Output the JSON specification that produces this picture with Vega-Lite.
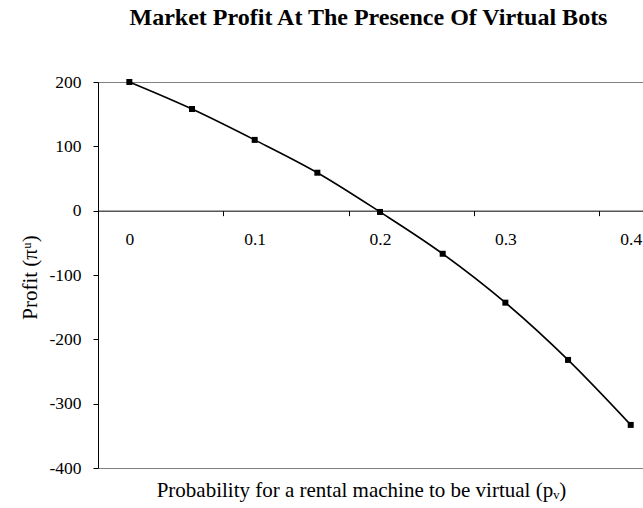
{
  "$schema": "https://vega.github.io/schema/vega-lite/v6.json",
  "autosize": {"type": "none"},
  "padding": {"left": 98, "top": 82, "right": 0, "bottom": 40},
  "width": 545,
  "height": 386,
  "background": "white",
  "title": {
    "text": "Market Profit At The Presence Of Virtual Bots",
    "font": "Liberation Serif",
    "fontSize": 24,
    "fontWeight": "bold",
    "color": "black",
    "anchor": "middle",
    "frame": "group",
    "baseline": "alphabetic",
    "offset": 24,
    "dx": -2
  },
  "config": {
    "view": {"stroke": "#808080", "strokeWidth": 1},
    "axis": {"grid": false}
  },
  "data": {
    "values": [
      {"p": 0, "profit": 200},
      {"p": 0.05, "profit": 158},
      {"p": 0.1, "profit": 110},
      {"p": 0.15, "profit": 59},
      {"p": 0.2, "profit": -2},
      {"p": 0.25, "profit": -67},
      {"p": 0.3, "profit": -143},
      {"p": 0.35, "profit": -232},
      {"p": 0.4, "profit": -333}
    ]
  },
  "layer": [
    {
      "mark": {"type": "line", "color": "black", "strokeWidth": 1.6, "interpolate": "monotone"},
      "encoding": {
        "x": {
          "field": "p", "type": "quantitative",
          "scale": {"domain": [-0.025, 0.4098], "nice": false, "zero": false},
          "axis": {
            "orient": "bottom",
            "values": [-0.025, 0.075, 0.175, 0.275, 0.375],
            "offset": -257.33,
            "labels": false,
            "ticks": true,
            "tickSize": 5,
            "tickColor": "black",
            "domain": true,
            "domainColor": "black",
            "domainWidth": 1,
            "title": "Probability for a rental machine to be virtual (pᵥ)",
            "titleFont": "Liberation Serif",
            "titleFontSize": 21,
            "titleFontWeight": "normal",
            "titleColor": "black",
            "titleBaseline": "alphabetic",
            "titleAlign": "center",
            "titleX": 263,
            "titleY": 286
          }
        },
        "y": {
          "field": "profit", "type": "quantitative",
          "scale": {"domain": [-400, 200], "nice": false},
          "axis": {
            "values": [-400, -300, -200, -100, 0, 100, 200],
            "labelExpr": "datum.value + ''",
            "tickSize": 5,
            "tickColor": "black",
            "domainColor": "black",
            "labelFont": "Liberation Serif",
            "labelFontSize": 17.5,
            "labelColor": "black",
            "labelPadding": 12,
            "labelBaseline": "middle",
            "title": "Profit (πᵘ)",
            "titleFont": "Liberation Serif",
            "titleFontSize": 21,
            "titleFontWeight": "normal",
            "titleColor": "black",
            "titleAngle": -90,
            "titleBaseline": "alphabetic",
            "titleAlign": "center",
            "titleX": -62,
            "titleY": 195
          }
        }
      }
    },
    {
      "mark": {"type": "point", "shape": "square", "filled": true, "color": "black", "size": 36, "opacity": 1},
      "encoding": {
        "x": {
          "field": "p", "type": "quantitative",
          "axis": {
            "orient": "top",
            "values": [0, 0.1, 0.2, 0.3, 0.4],
            "format": ".1~f",
            "offset": -128.67,
            "ticks": false,
            "tickSize": 0,
            "domain": false,
            "labelFont": "Liberation Serif",
            "labelFontSize": 17.5,
            "labelColor": "black",
            "labelBaseline": "alphabetic",
            "labelPadding": -34,
            "labelFlush": false,
            "labelOverlap": false,
            "title": null
          }
        },
        "y": {"field": "profit", "type": "quantitative"}
      }
    }
  ],
  "resolve": {"axis": {"x": "independent"}}
}
